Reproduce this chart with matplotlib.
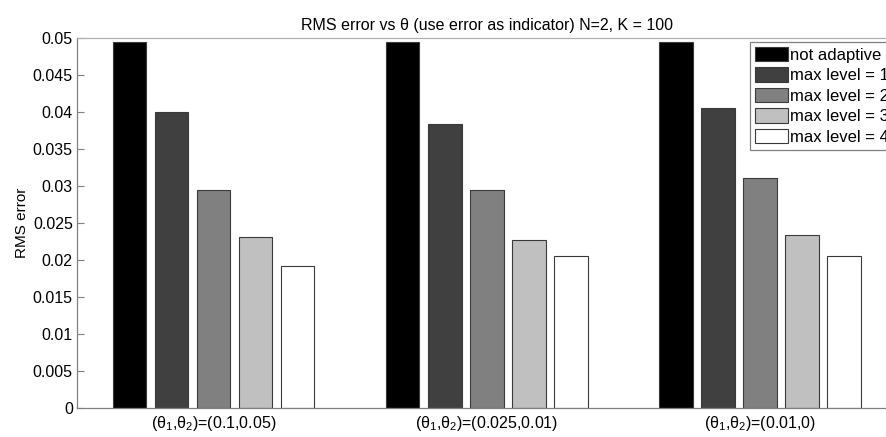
import numpy as np
import matplotlib
matplotlib.use('Agg')
import matplotlib.pyplot as plt

plt.rcParams['font.family'] = ['Liberation Sans', 'DejaVu Sans']
plt.rcParams['mathtext.default'] = 'regular'

groups = ['(θ$_1$,θ$_2$)=(0.1,0.05)', '(θ$_1$,θ$_2$)=(0.025,0.01)', '(θ$_1$,θ$_2$)=(0.01,0)']
series = ['not adaptive', 'max level = 1', 'max level = 2', 'max level = 3', 'max level = 4']
not_adaptive = [0.0494, 0.0494, 0.0494]
level1 = [0.0400, 0.0384, 0.0405]
level2 = [0.0295, 0.0294, 0.0311]
level3 = [0.0231, 0.0227, 0.0234]
level4 = [0.0192, 0.0205, 0.0205]
yticks = [0, 0.005, 0.01, 0.015, 0.02, 0.025, 0.03, 0.035, 0.04, 0.045, 0.05]
ytick_labels = ['0', '0.005', '0.01', '0.015', '0.02', '0.025', '0.03', '0.035', '0.04', '0.045', '0.05']

colors = ['#000000', '#404040', '#808080', '#c0c0c0', '#ffffff']
data = [not_adaptive, level1, level2, level3, level4]

fig = plt.figure(figsize=(8.86, 4.37), dpi=100)
ax = fig.add_axes([0.0869, 0.0664, 0.9249, 0.8466])

x = np.arange(1, len(groups) + 1)
n = len(data)
group_w = min(0.8, n / (n + 1.5))
step = group_w / n
for i, vals in enumerate(data):
    off = (i - (n - 1) / 2) * step
    ax.bar(x + off, vals, width=step * 0.8, color=colors[i], edgecolor='#3a3a3a',
           linewidth=0.8, label=series[i], zorder=2)

ax.set_xlim(0.5, 3.5)
ax.set_ylim(0, 0.05)
ax.set_xticks(x)
ax.set_xticklabels(groups, fontsize=11.5)
ax.set_yticks(yticks)
ax.set_yticklabels(ytick_labels, fontsize=11.5)
ax.tick_params(direction='in', length=5, color='#808080', width=0.8, pad=3)
ax.tick_params(axis='x', length=0, pad=4)
for s in ax.spines.values():
    s.set_color('#808080')
    s.set_linewidth(0.9)
ax.spines['top'].set_color('#b0b0b0')

ax.set_ylabel('RMS error', fontsize=11, labelpad=3)
ax.set_title('RMS error vs θ (use error as indicator) N=2, K = 100', fontsize=11.5, pad=6)

leg = ax.legend(loc='upper left', bbox_to_anchor=(750 / 886, 1 - 42 / 437),
                bbox_transform=fig.transFigure, fancybox=False, framealpha=1,
                edgecolor='#808080', fontsize=12, handlelength=1.95, handleheight=0.95,
                handletextpad=0.12, labelspacing=0.27, borderpad=0.3, borderaxespad=0)
leg.get_frame().set_linewidth(0.9)

fig.savefig('out.png', dpi=100)
